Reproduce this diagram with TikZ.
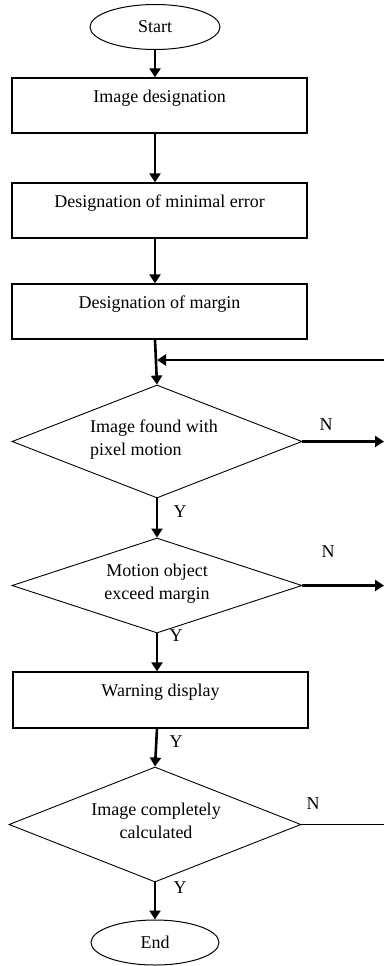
\documentclass[tikz,border=0pt]{standalone}
\usepackage{fontspec}
\setmainfont{Liberation Serif}
\usetikzlibrary{shapes.geometric,arrows.meta}
\begin{document}
\begin{tikzpicture}[x=1pt,y=-1pt,
  font=\fontsize{18pt}{23pt}\selectfont,
  terminal/.style={draw, line width=1pt, ellipse, minimum width=130pt, minimum height=45pt, inner sep=0pt},
  procbox/.style={draw, line width=1.3pt, rectangle, minimum width=295pt, inner sep=0pt, text height=24pt, text depth=31pt},
  decision/.style={draw, line width=0.9pt, diamond, inner sep=0pt},
  dtext/.style={inner sep=0pt, align=center},
  arr/.style={line width=2.6pt, -{Triangle[length=9pt,width=11pt]}},
  plain/.style={line width=1.2pt},
  lbl/.style={inner sep=0pt}
]
\useasboundingbox (0,0) rectangle (384,966);
% nodes
\node[terminal] (start) at (155,27) {Start};
\node[procbox] (b1) at (159.5,105.5) {Image designation};
\node[procbox] (b2) at (159.5,210.5) {Designation of minimal error};
\node[procbox] (b3) at (159.5,311.5) {Designation of margin};
\node[decision, minimum width=290pt, minimum height=113pt] (d1) at (157,441.5) {};
\node[dtext, align=left] (t1) at (154,440) {Image found with\\pixel motion};
\node[decision, minimum width=290pt, minimum height=95pt] (d2) at (157,585.5) {};
\node[dtext] (t2) at (157,584) {Motion object\\exceed margin};
\node[procbox, minimum height=56pt] (b4) at (160.5,700) {Warning display};
\node[decision, minimum width=292pt, minimum height=115pt] (d3) at (155,824.5) {};
\node[dtext] (t3) at (156,821) {Image completely\\calculated};
\node[terminal, minimum width=128pt] (end) at (155,942.5) {End};
% free ends
\coordinate (fb) at (384,360);
\coordinate (n1) at (384,441.5);
\coordinate (n2) at (384,585.5);
\coordinate (n3) at (384,824.5);
% connectors
\draw[arr] (start.south) -- (start.south |- b1.north);
\draw[arr] (b1.south -| start.south) -- (b2.north -| start.south);
\draw[arr] (b2.south -| start.south) -- (b3.north -| start.south);
\draw[arr] (b3.south -| start.south) -- (d1.north);
\draw[arr] (fb) -- (fb -| d1.north);
\draw[arr] (d1.east) -- (n1);
\draw[arr] (d1.south) -- (d2.north);
\draw[arr] (d2.east) -- (n2);
\draw[arr] (d2.south) -- (d2.south |- b4.north);
\draw[arr] (b4.south -| d2.south) -- (d3.north);
\draw[plain] (d3.east) -- (n3);
\draw[arr] (d3.south) -- (end.north);
% labels
\node[lbl] (ln1) at (326,425) {N};
\node[lbl] (ln2) at (328,552) {N};
\node[lbl] (ln3) at (313,804) {N};
\node[lbl] (ly1) at (180,512) {Y};
\node[lbl] (ly2) at (176,636) {Y};
\node[lbl] (ly3) at (176,742) {Y};
\node[lbl] (ly4) at (180,888) {Y};
\end{tikzpicture}
\end{document}
